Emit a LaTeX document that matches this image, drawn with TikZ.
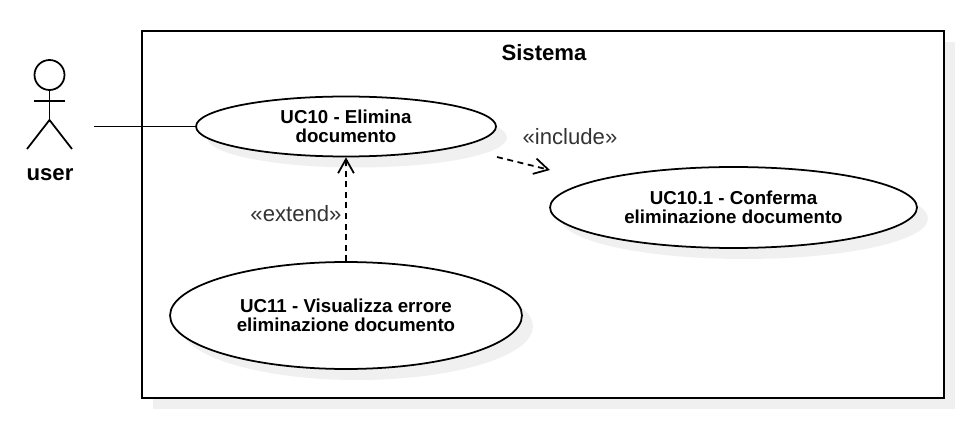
\documentclass[tikz,border=0pt]{standalone}
\usepackage{fontspec}
\setmainfont{Liberation Sans}
\usetikzlibrary{arrows.meta,shadows,shapes.geometric}
\tikzset{
	usecase/.style={draw=black, fill=white, ellipse, line width=1pt, inner sep=0pt, align=center,
		font=\fontsize{10.65}{10.5}\selectfont\bfseries,
		drop shadow={shadow xshift=0.22cm, shadow yshift=-0.22cm, fill=black!6, opacity=1}},
	sysbox/.style={draw=black, fill=white, line width=1pt, inner sep=0pt,
		drop shadow={shadow xshift=0.22cm, shadow yshift=-0.22cm, fill=black!6, opacity=1}},
	actorline/.style={line width=1pt, color=black},
	deplink/.style={line width=1pt, dash pattern=on 3.4pt off 2.6pt,
		-{Straight Barb[length=8pt, width=9pt]}},
	stereo/.style={font=\fontsize{12.6}{14}\selectfont, text=black!80},
	bigbold/.style={font=\fontsize{12.6}{14}\selectfont\bfseries}
}
\begin{document}
\begin{tikzpicture}[x=0.02cm, y=-0.02cm]
	%%%%% START %%%%%
	\useasboundingbox (0, 0) rectangle (970, 422);

	\node[sysbox, minimum width=16.04cm, minimum height=7.34cm] (sistema) at (543, 214.5) {};
	\node[bigbold] (sistemalabel) at (544, 53) {Sistema};

	\node[usecase, minimum width=6cm, minimum height=1.2cm] (uc10) at (346, 126.5) {UC10 - Elimina\\documento};
	\node[usecase, minimum width=7.34cm, minimum height=1.62cm] (uc101) at (733.5, 207.5) {UC10.1 - Conferma\\eliminazione documento};
	\node[usecase, minimum width=7.04cm, minimum height=2.14cm] (uc11) at (346, 315.5) {UC11 - Visualizza errore\\eliminazione documento};

	% actor
	\draw[actorline] (49.5, 75) circle (15);
	\draw[actorline] (49.5, 90) -- (49.5, 120);
	\draw[actorline] (34, 101) -- (65, 101);
	\draw[actorline] (27, 149) -- (49.5, 120) -- (72, 149);
	\node[bigbold] (user) at (50, 175) {user};

	\coordinate (actorside) at (94, 126.5);
	\draw[actorline] (actorside) -- (uc10.west);

	\coordinate (incfrom) at (497, 157);
	\coordinate (incto) at (550, 170);
	\draw[deplink] (incfrom) -- (incto);
	\node[stereo] (inclabel) at (570, 137) {«include»};

	\draw[deplink] (uc11.north) -- (uc10.south);
	\node[stereo] (extlabel) at (296, 214) {«extend»};
	%%%%% END %%%%%
\end{tikzpicture}
\end{document}
